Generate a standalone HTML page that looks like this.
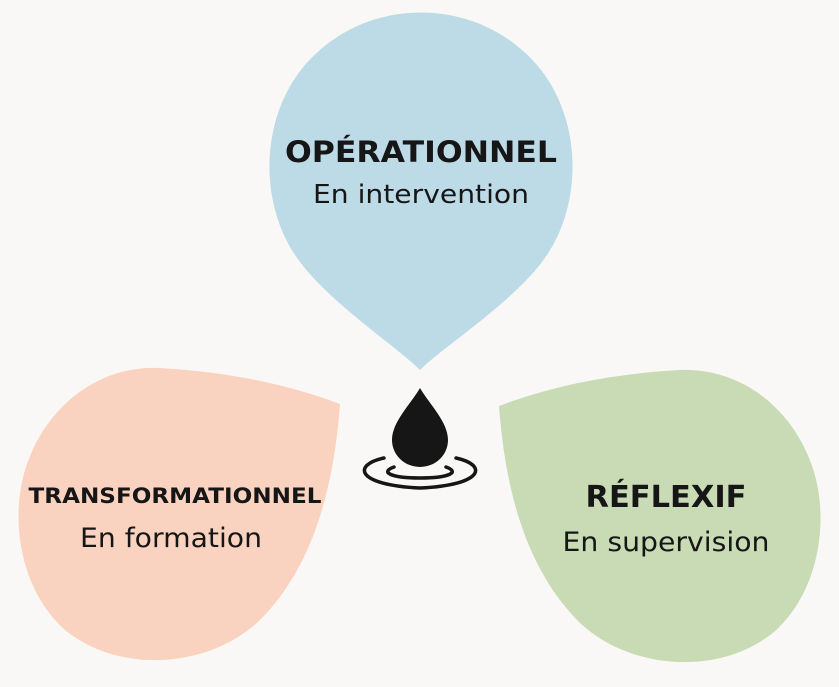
<!DOCTYPE html>
<html><head><meta charset="utf-8"><style>
html,body{margin:0;padding:0;background:#faf8f6}
svg{display:block}
text{font-family:"DejaVu Sans","Liberation Sans",sans-serif;fill:#161616;text-anchor:middle}
</style></head><body>
<svg width="839" height="687" viewBox="0 0 839 687">
<rect width="839" height="687" fill="#faf8f6"/>
<path d="M420,370 C395,345 325,300 295,255 C255,195 261,100 320,50 C377,0 465,0 522,50 C581,100 587,195 547,255 C517,300 445,345 420,370 Z" fill="#bcdbe6"/>
<path d="M340,404 C335,470 320,560 260,620 C210,668 120,675 65,630 C20,590 10,520 25,470 C45,405 100,365 160,368 C230,372 290,385 340,404 Z" fill="#f9d3c0"/>
<path transform="translate(839,2) scale(-1,1)" d="M340,404 C335,470 320,560 260,620 C210,668 120,675 65,630 C20,590 10,520 25,470 C45,405 100,365 160,368 C230,372 290,385 340,404 Z" fill="#c8dbb4"/>
<path d="M420,388 C410,405 392,422 392,440 A28 27 0 0 0 448,440 C448,422 430,405 420,388 Z" fill="#161616"/>
<path d="M384,458 C352,465 356,485 420,488 C484,485 488,465 456,458" fill="none" stroke="#161616" stroke-width="3.5" stroke-linecap="round"/>
<path d="M394,467 C380,472 390,478 420,478 C450,478 460,472 446,467" fill="none" stroke="#161616" stroke-width="3.5" stroke-linecap="round"/>
<text x="421" y="162" font-size="29" font-weight="bold" textLength="272" lengthAdjust="spacingAndGlyphs">OPÉRATIONNEL</text>
<text x="421" y="203" font-size="26" textLength="216" lengthAdjust="spacingAndGlyphs">En intervention</text>
<text x="175" y="503" font-size="21" font-weight="bold" textLength="293" lengthAdjust="spacingAndGlyphs">TRANSFORMATIONNEL</text>
<text x="171" y="547" font-size="27" textLength="182" lengthAdjust="spacingAndGlyphs">En formation</text>
<text x="666" y="507" font-size="30" font-weight="bold" textLength="161" lengthAdjust="spacingAndGlyphs">RÉFLEXIF</text>
<text x="666" y="551" font-size="27" textLength="207" lengthAdjust="spacingAndGlyphs">En supervision</text>
</svg>
</body></html>
